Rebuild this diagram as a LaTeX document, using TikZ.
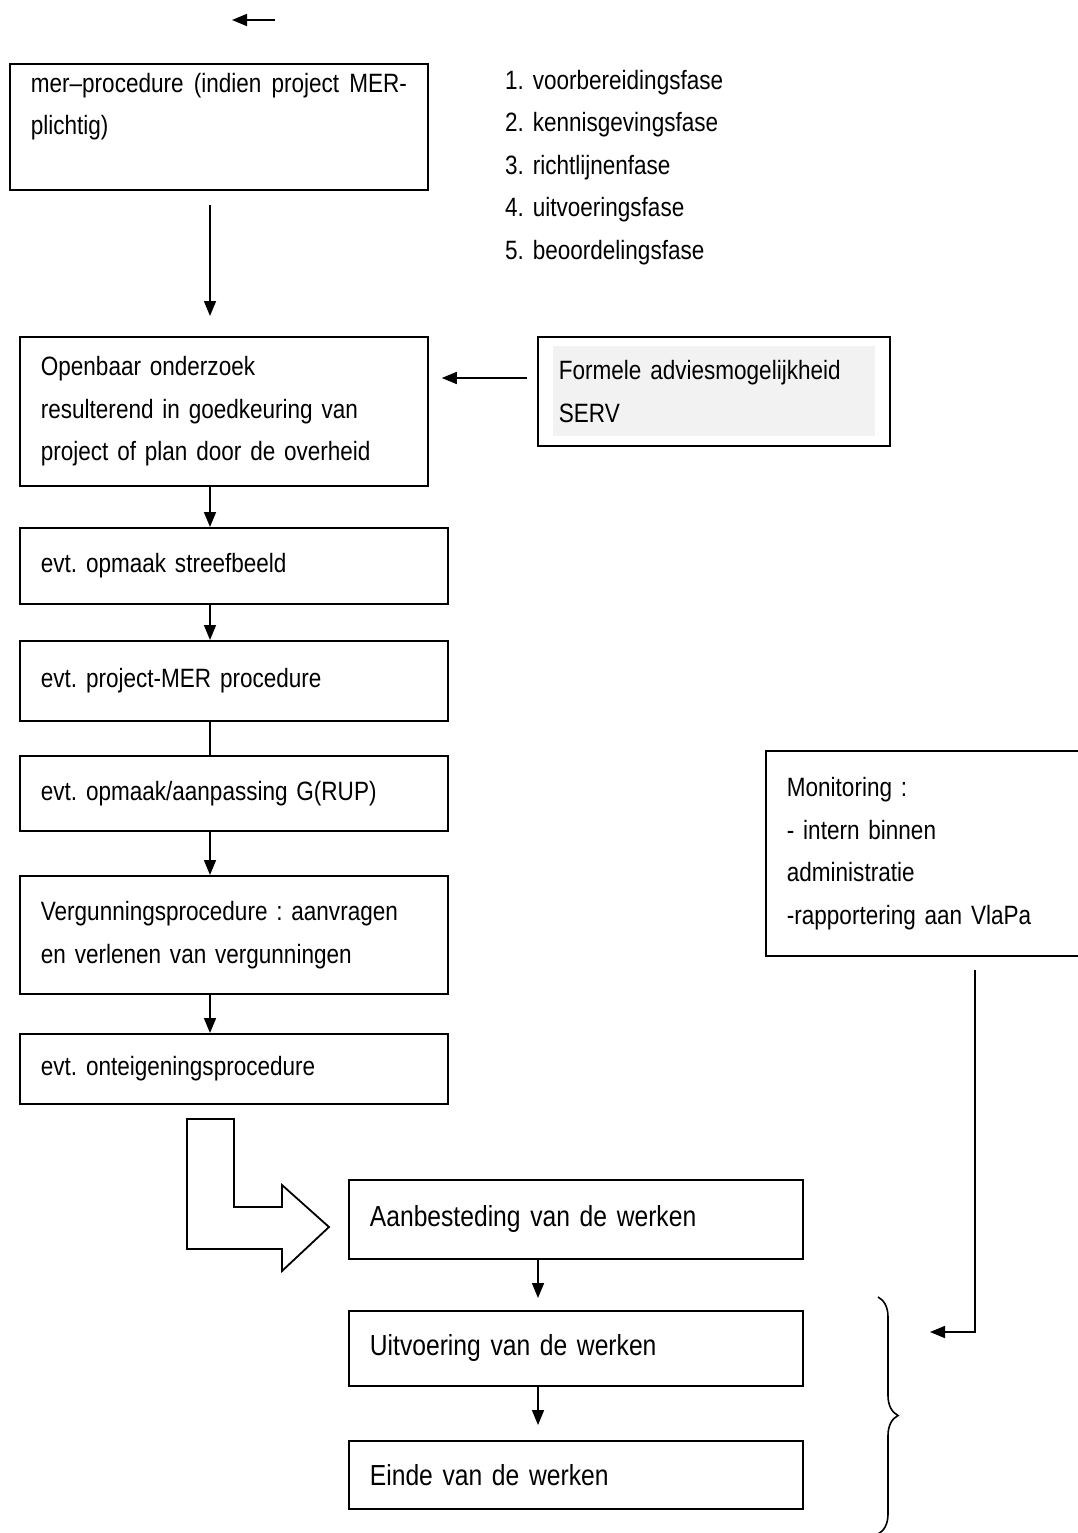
\documentclass[tikz,border=0pt]{standalone}
\usepackage{fontspec}
\setmainfont{Liberation Sans}[FakeStretch=0.85,WordSpace=0.8]
\usetikzlibrary{arrows.meta,calc,decorations.pathreplacing,backgrounds}
\newcommand\txtS{\fontsize{26.5}{42.5}\selectfont}
\newcommand\txtL{\fontsize{29}{43}\selectfont}
\definecolor{servgray}{HTML}{F2F2F2}
\frenchspacing
\begin{document}
\begin{tikzpicture}[x=1pt,y=-1pt,
  box/.style={draw, line width=1.8pt, anchor=north west, align=left,
    inner xsep=21pt, inner ysep=0pt, font=\txtS},
  arr/.style={line width=1.6pt, -{Triangle[length=15pt,width=12pt]}},
  plainline/.style={line width=1.6pt},
  outlineshape/.style={line width=1.8pt},
]
\useasboundingbox (0,0) rectangle (1078,1533);

% top arrow
\coordinate (t1) at (275,20);
\coordinate (t2) at (232,20);
\draw[arr] (t1) -- (t2);

% boxes
\node[draw, line width=1.8pt, anchor=north west, inner xsep=21pt, inner ysep=0pt, font=\txtS,
      minimum width=418pt, minimum height=126pt] (b1) at (9,63)
  {\parbox[t][108pt][t]{376pt}{\noindent mer–procedure (indien project MER-\linebreak plichtig)}};
\node[anchor=north west, align=left, inner sep=0pt, font=\txtS, text width=300pt] (list) at (505,70)
  {1.\ voorbereidingsfase\\2.\ kennisgevingsfase\\3.\ richtlijnenfase\\4.\ uitvoeringsfase\\5.\ beoordelingsfase};
\node[box, minimum width=408pt, minimum height=149pt, text width=366pt] (b2) at (19,336)
  {Openbaar onderzoek\\resulterend in goedkeuring van\\project of plan door de overheid};
\node[box, minimum width=352pt, minimum height=109pt, text width=310pt] (serv) at (537,336)
  {Formele adviesmogelijkheid\\SERV};
\begin{scope}[on background layer]
  \fill[servgray] ($(serv.north west)+(16,10)$) rectangle ($(serv.south east)+(-16,-11)$);
\end{scope}
\node[box, minimum width=428pt, minimum height=76pt, text width=386pt] (b3) at (19,527)
  {evt. opmaak streefbeeld};
\node[box, minimum width=428pt, minimum height=80pt, text width=386pt] (b4) at (19,640)
  {evt. project-MER procedure};
\node[box, minimum width=428pt, minimum height=75pt, text width=386pt] (b5) at (19,755)
  {evt. opmaak/aanpassing G(RUP)};
\node[box, minimum width=428pt, minimum height=118pt, text width=386pt] (b6) at (19,875)
  {Vergunningsprocedure : aanvragen\\en verlenen van vergunningen};
\node[box, minimum width=428pt, minimum height=70pt, text width=386pt] (b7) at (19,1033)
  {evt. onteigeningsprocedure};
\node[box, font=\txtL, minimum width=454pt, minimum height=79pt, text width=412pt] (b8) at (348,1179)
  {Aanbesteding van de werken};
\node[box, font=\txtL, minimum width=454pt, minimum height=75pt, text width=412pt] (b9) at (348,1310)
  {Uitvoering van de werken};
\node[box, font=\txtL, minimum width=454pt, minimum height=68pt, text width=412pt] (b10) at (348,1440)
  {Einde van de werken};
\node[box, minimum width=330pt, minimum height=205pt, text width=288pt] (mon) at (765,750)
  {Monitoring :\\- intern binnen\\administratie\\-rapportering aan VlaPa};

% connectors
\draw[arr] ($(b1.south west)+(201,14)$) -- ($(b2.north west)+(191,-20)$);
\draw[arr] ($(serv.north west)+(-10,42)$) -- ($(b2.north east)+(13,42)$);
\draw[arr] ($(b2.south west)+(191,0)$) -- ($(b3.north west)+(191,0)$);
\draw[arr] ($(b3.south west)+(191,0)$) -- ($(b4.north west)+(191,0)$);
\draw[plainline] ($(b4.south west)+(191,0)$) -- ($(b5.north west)+(191,0)$);
\draw[arr] ($(b5.south west)+(191,0)$) -- ($(b6.north west)+(191,0)$);
\draw[arr] ($(b6.south west)+(191,0)$) -- ($(b7.north west)+(191,0)$);
\draw[arr] ($(b8.south west)+(190,0)$) -- ($(b9.north west)+(190,-12)$);
\draw[arr] ($(b9.south west)+(190,0)$) -- ($(b10.north west)+(190,-15)$);

% bent arrow
\draw[outlineshape] (187,1119) -- (234,1119) -- (234,1207) -- (282,1207) -- (282,1185)
  -- (329,1227) -- (282,1271) -- (282,1249) -- (187,1249) -- cycle;

% brace
\draw[plainline, decorate, decoration={brace, amplitude=20pt}] (878,1297) -- (878,1534);

% monitoring connector
\coordinate (m1) at ($(mon.south west)+(210,13)$);
\coordinate (m2) at (930,1332);
\draw[arr] (m1) |- (m2);
\end{tikzpicture}
\end{document}
